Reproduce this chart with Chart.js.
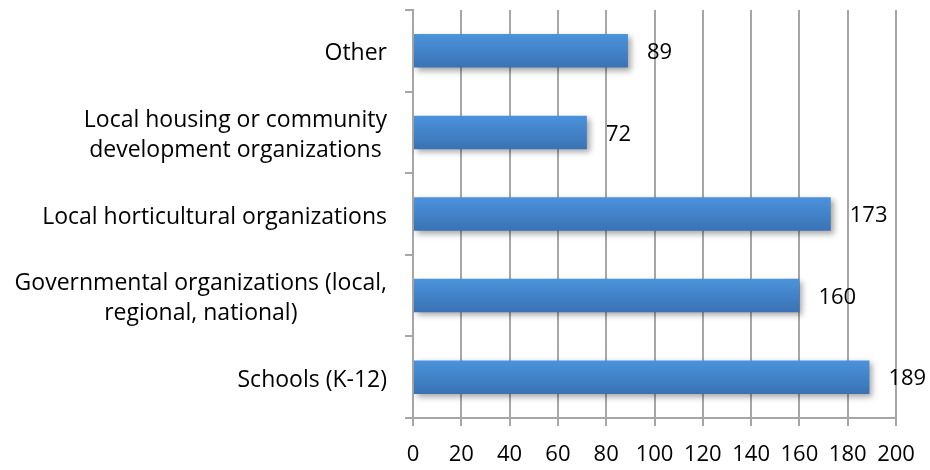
<!DOCTYPE html>
<html>
<head>
<meta charset="utf-8">
<script src="https://cdn.jsdelivr.net/npm/chart.js@4/dist/chart.umd.min.js"></script>
<style>
  html, body { margin: 0; padding: 0; background: #fff; }
  #wrap { width: 930px; height: 470px; }
</style>
</head>
<body>
<div id="wrap"><canvas id="grafico"></canvas></div>
<script>
// Datos del gráfico (de arriba a abajo)
const categorias = [
  "Other",
  ["Local housing or community", "development organizations"],
  "Local horticultural organizations",
  ["Governmental organizations (local,", "regional, national)"],
  "Schools (K-12)"
];
const valores = [89, 72, 173, 160, 189];
const ticksX = [0, 20, 40, 60, 80, 100, 120, 140, 160, 180, 200];

const fuente = "'Open Sans', Lato, sans-serif";
const grosorBarra = 0.41;

// Degradado vertical para cada barra
function colorBarra(ctx) {
  const chart = ctx.chart;
  const y = chart.scales.y;
  if (!y || ctx.dataIndex === undefined) return '#4284cc';
  const centro = y.getPixelForValue(ctx.dataIndex);
  const alto = (y.height / categorias.length) * grosorBarra;
  if (!isFinite(centro) || !isFinite(alto) || alto <= 0) return '#4284cc';
  const g = chart.ctx.createLinearGradient(0, centro - alto / 2, 0, centro + alto / 2);
  g.addColorStop(0, '#4b93dc');
  g.addColorStop(1, '#3a72b4');
  return g;
}

// Sombra bajo las barras
const sombra = {
  id: 'sombra',
  beforeDatasetsDraw(chart) {
    const c = chart.ctx;
    c.save();
    c.shadowColor = 'rgba(0,0,0,0.35)';
    c.shadowBlur = 6;
    c.shadowOffsetX = 3;
    c.shadowOffsetY = 3;
  },
  afterDatasetsDraw(chart) {
    chart.ctx.restore();
  }
};

// Etiquetas de categoría: bloque alineado a la derecha, líneas centradas
const categoriasEje = {
  id: 'categoriasEje',
  afterDraw(chart) {
    const c = chart.ctx;
    const y = chart.scales.y;
    const derecha = y.right - 26;
    c.save();
    c.font = '23px ' + fuente;
    c.fillStyle = '#000';
    c.textAlign = 'center';
    c.textBaseline = 'middle';
    categorias.forEach((cat, i) => {
      const lineas = Array.isArray(cat) ? cat : [cat];
      const ancho = Math.max(...lineas.map(l => c.measureText(l).width));
      const cx = derecha - ancho / 2;
      const cy = y.getPixelForValue(i);
      lineas.forEach((l, j) => {
        c.fillText(l, cx, cy + (j - (lineas.length - 1) / 2) * 30 + 3);
      });
    });
    c.restore();
  }
};

// Etiquetas de valor a la derecha de cada barra
const etiquetas = {
  id: 'etiquetas',
  afterDraw(chart) {
    const c = chart.ctx;
    const meta = chart.getDatasetMeta(0);
    c.save();
    c.font = '22px ' + fuente;
    c.fillStyle = '#000';
    c.textAlign = 'left';
    c.textBaseline = 'middle';
    meta.data.forEach((bar, i) => {
      c.fillText(String(valores[i]), bar.x + 19, bar.y + 2);
    });
    c.restore();
  }
};

new Chart(document.getElementById('grafico'), {
  type: 'bar',
  data: {
    labels: categorias,
    datasets: [{
      data: valores,
      backgroundColor: colorBarra,
      borderWidth: 0,
      categoryPercentage: 1,
      barPercentage: grosorBarra
    }]
  },
  options: {
    indexAxis: 'y',
    responsive: true,
    maintainAspectRatio: false,
    animation: false,
    layout: { padding: { top: 10, right: 34, left: 0, bottom: 0 } },
    plugins: {
      legend: { display: false },
      tooltip: { enabled: false }
    },
    scales: {
      x: {
        min: 0,
        max: 200,
        afterBuildTicks(scale) {
          scale.ticks = ticksX.map(v => ({ value: v }));
        },
        afterFit(scale) {
          scale.height = 52;
          scale.paddingLeft = 0;
          scale.paddingRight = 0;
        },
        grid: {
          color: '#a6a6a6',
          lineWidth: 2,
          tickLength: 8
        },
        border: { color: '#a6a6a6', width: 2 },
        ticks: {
          color: '#000',
          padding: 16,
          maxRotation: 0,
          font: { family: fuente, size: 22 }
        }
      },
      y: {
        afterFit(scale) {
          scale.width = 413;
          scale.paddingTop = 0;
          scale.paddingBottom = 0;
        },
        grid: {
          offset: true,
          drawOnChartArea: false,
          color: '#a6a6a6',
          lineWidth: 2,
          tickLength: 8
        },
        border: { color: '#a6a6a6', width: 2 },
        ticks: { display: false }
      }
    }
  },
  plugins: [sombra, categoriasEje, etiquetas]
});
</script>
</body>
</html>
